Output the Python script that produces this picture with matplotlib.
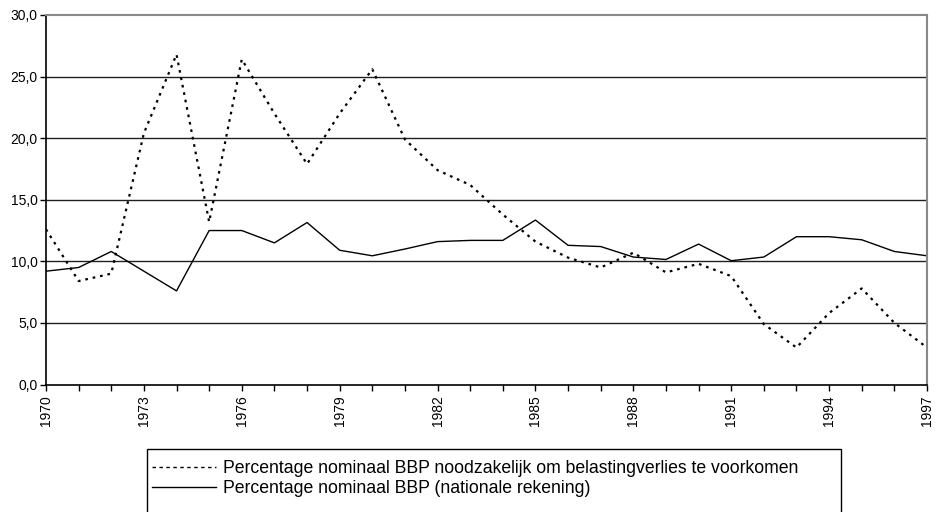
import matplotlib
matplotlib.use("Agg")
import matplotlib.pyplot as plt
from matplotlib.lines import Line2D
from matplotlib.patches import Rectangle
from matplotlib.ticker import FuncFormatter, MultipleLocator

years = list(range(1970, 1998))
needed_pct = [12.6, 8.4, 9.0, 20.4, 26.8, 13.2, 26.4, 22.0, 17.9, 22.0,
              25.6, 19.9, 17.4, 16.2, 13.8, 11.6, 10.3, 9.5, 10.7, 9.1,
              9.8, 8.8, 4.9, 3.0, 5.8, 7.8, 5.0, 3.0]
national_pct = [9.2, 9.5, 10.8, 9.2, 7.6, 12.5, 12.5, 11.5, 13.15, 10.9,
                10.45, 11.0, 11.6, 11.7, 11.7, 13.35, 11.3, 11.2, 10.35, 10.15,
                11.4, 10.05, 10.35, 12.0, 12.0, 11.75, 10.8, 10.45]
legend_labels = [
    "Percentage nominaal BBP noodzakelijk om belastingverlies te voorkomen",
    "Percentage nominaal BBP (nationale rekening)",
]

plt.rcParams["font.family"] = ["Liberation Sans", "DejaVu Sans"]

W, H = 946, 512
fig = plt.figure(figsize=(W / 100, H / 100), dpi=100)
ax = fig.add_axes([46 / W, 1 - 384.5 / H, 881 / W, 369.5 / H])

ax.plot(years, needed_pct, color="black", lw=1.6, ls=(0, (1.2, 2.2)))
ax.plot(years, national_pct, color="black", lw=1.0)

ax.set_xlim(1970, 1997)
ax.set_ylim(0, 30)
ax.yaxis.set_major_locator(MultipleLocator(5))
ax.yaxis.set_major_formatter(FuncFormatter(lambda v, p: f"{v:.1f}".replace(".", ",")))
ax.set_xticks(years)
ax.set_xticklabels([str(y) if (y - 1970) % 3 == 0 else "" for y in years], rotation=90)
ax.tick_params(axis="x", length=4, width=1, labelsize=10, pad=4)
ax.tick_params(axis="y", length=4, width=1, labelsize=10, pad=2)

for v in range(5, 30, 5):
    ax.axhline(v, color="#202020", lw=1.0, zorder=0)
for side in ("top", "right"):
    ax.spines[side].set_color("#888888")
    ax.spines[side].set_linewidth(1.5)
for side in ("left", "bottom"):
    ax.spines[side].set_linewidth(1.2)

# legend frame runs off the bottom of the picture, as in the original
fig.add_artist(Rectangle((147 / W, -0.05), (841 - 147) / W, 0.05 + (1 - 449 / H),
                         transform=fig.transFigure, fill=False,
                         edgecolor="black", lw=1.0, clip_on=False))

handles = [
    Line2D([], [], color="black", lw=1.0, ls=(0, (2.5, 2.5))),
    Line2D([], [], color="black", lw=1.0),
]
fig.legend(
    handles, legend_labels,
    loc="upper left", bbox_to_anchor=(152 / W, 1 - 460 / H),
    frameon=False, prop={"size": 12.7},
    handlelength=3.6, handletextpad=0.4, labelspacing=0.18,
    borderpad=0, borderaxespad=0,
)

fig.savefig("out.png", dpi=100)
